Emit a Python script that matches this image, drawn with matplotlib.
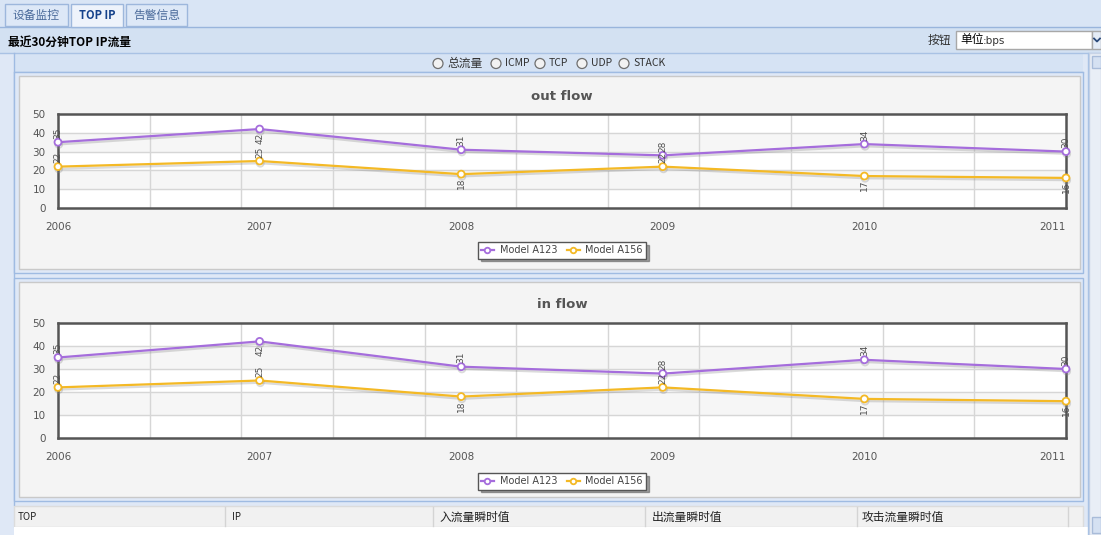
import matplotlib.pyplot as plt
import matplotlib.patheffects as pe
from matplotlib.patches import Rectangle, Circle

plt.rcParams['font.family'] = ['DejaVu Sans', 'Noto Sans CJK SC']
CJK = ['Noto Sans CJK SC', 'DejaVu Sans']

# data
years = [2006, 2007, 2008, 2009, 2010, 2011]
out_a123 = [35, 42, 31, 28, 34, 30]
out_a156 = [22, 25, 18, 22, 17, 16]
in_a123 = [35, 42, 31, 28, 34, 30]
in_a156 = [22, 25, 18, 22, 17, 16]
series_names = ['Model A123', 'Model A156']
tabs = ['设备监控', 'TOP IP', '告警信息']
radios = ['总流量', 'ICMP', 'TCP', 'UDP', 'STACK']
table_cols = ['TOP', 'IP', '入流量瞬时值', '出流量瞬时值', '攻击流量瞬时值']

# where the value labels sit (u = above the point, d = below)
place_a123 = ['u', 'd', 'u', 'u', 'u', 'u']
place_a156 = ['u', 'u', 'd', 'u', 'd', 'd']

PURPLE = '#a56ddc'
ORANGE = '#f4b925'

W, H = 1101, 535
fig = plt.figure(figsize=(W / 100, H / 100), dpi=100)
bg = fig.add_axes([0, 0, 1, 1])
bg.set_xlim(0, W)
bg.set_ylim(H, 0)
bg.axis('off')


def box(x0, y0, x1, y1, fc, ec='none', lw=1, z=1):
    bg.add_patch(Rectangle((x0, y0), x1 - x0, y1 - y0, facecolor=fc,
                           edgecolor=ec, linewidth=lw, zorder=z))


def px_rect(x0, y0, x1, y1):
    return [x0 / W, 1 - y1 / H, (x1 - x0) / W, (y1 - y0) / H]


# page background
box(0, 0, W, H, '#dfe8f6')
# tab bar
box(0, 0, W, 27, '#d9e5f5')
bg.plot([0, W], [27, 27], color='#99b5dc', lw=1, zorder=2)
tab_x = [(5, 68), (71, 123), (126, 187)]
for (x0, x1), name in zip(tab_x, tabs):
    sel = name == 'TOP IP'
    box(x0, 4, x1, 27 if sel else 26, '#eef3fb' if sel else '#dde8f7',
        ec='#9db7dc', z=3)
    bg.text((x0 + x1) / 2, 15.5, name, ha='center', va='center',
            fontsize=8.5 if not sel else 8, color='#15428b' if sel else '#4a6a9a',
            fontweight='bold' if sel else 'normal', family=CJK, zorder=4)

# header row
box(0, 28, W, 53, '#d3e1f2')
bg.plot([0, W], [53, 53], color='#a9c2e4', lw=1, zorder=2)
bg.text(8, 42, '最近30分钟TOP IP流量', ha='left', va='center', fontsize=8.5,
        fontweight='bold', color='#000000', family=CJK, zorder=4)
bg.text(928, 40.5, '按钮', ha='left', va='center', fontsize=8.5,
        color='#333333', family=CJK, zorder=4)
box(956, 31, 1092, 48.5, '#ffffff', ec='#a8a8a8', z=3)
bg.text(960, 40, '单位', ha='left', va='center', fontsize=8.5,
        color='#000000', family=CJK, zorder=4)
bg.text(983, 40.5, ':bps', ha='left', va='center', fontsize=7.5,
        color='#333333', zorder=4)
box(1092, 31, W, 48.5, '#e4ecf7', ec='#a8a8a8', z=3)
bg.plot([1094, 1097, 1100], [38.5, 41.5, 38.5], color='#2b4a7a', lw=1.3, zorder=4)

# left strip and scrollbar
box(0, 53, 14, H, '#dfe8f6')
bg.plot([14, 14], [53, 505], color='#9fbbe2', lw=1, zorder=2)
box(1089, 53, W, H, '#e9eef6', ec='#c7d3e6', z=2)
box(1092, 56, W, 68, '#d5e1f2', ec='#a9bcd9', z=3)
box(1092, 517, W, 533, '#d5e1f2', ec='#a9bcd9', z=3)
bg.plot([1088, 1088], [53, H], color='#a9c2e4', lw=1, zorder=3)

# radio row
box(14, 54, 1083, 72, '#d6e3f4')
bg.plot([14, 1083], [72, 72], color='#a9c2e4', lw=1, zorder=2)
radio_x = [438, 496, 540, 582, 624]
for rx, name in zip(radio_x, radios):
    bg.add_patch(Circle((rx, 63.5), 5, facecolor='#f2f2f2', edgecolor='#6f6f6f',
                        lw=0.9, zorder=4))
    bg.text(rx + 9, 63.5, name, ha='left', va='center',
            fontsize=8.5 if name == '总流量' else 7.5, color='#333333',
            family=CJK, zorder=4)

# chart panels
for y0, y1 in [(72, 273), (278, 501)]:
    box(14, y0, 1083, y1, '#dfe8f6', ec='#9fbbe2', z=2)
    box(19, y0 + 4, 1080, y1 - 4, '#f4f4f4', ec='#c9c9c9', z=2)

# table header
box(14, 506, 1083, 527, '#f1f1f1', ec='#dcdcdc', z=2)
box(14, 527, 1088, H, '#ffffff', z=2)
col_x = [18, 232, 440, 652, 862]
for sep in [225, 433, 645, 857, 1068]:
    bg.plot([sep, sep], [507, 526], color='#d4d4d4', lw=1, zorder=3)
for cx, name in zip(col_x, table_cols):
    bg.text(cx, 517, name, ha='left', va='center', fontsize=8.5 if cx > 400 else 7,
            color='#222222', family=CJK, zorder=4)


def draw_chart(rect, title, a123, a156, title_pad, legend_y):
    ax = fig.add_axes(px_rect(*rect))
    ax.set_xlim(years[0], years[-1])
    ax.set_ylim(0, 50)
    ax.set_facecolor('#ffffff')
    ax.axhspan(10, 20, color='#f6f6f6', zorder=0)
    ax.axhspan(30, 40, color='#f6f6f6', zorder=0)
    for k in range(1, 11):
        ax.axvline(years[0] + (years[-1] - years[0]) * k / 11, color='#d6d6d6',
                   lw=1, zorder=1)
    for v in [10, 20, 30, 40]:
        ax.axhline(v, color='#d6d6d6', lw=1, zorder=1)

    shadow = [pe.SimpleLineShadow(offset=(0.5, -1.6), shadow_color='#888888',
                                  alpha=0.3), pe.Normal()]
    for vals, col, name, place in [(a123, PURPLE, series_names[0], place_a123),
                                   (a156, ORANGE, series_names[1], place_a156)]:
        ax.plot(years, vals, color=col, lw=1.6, marker='o', markersize=5,
                markerfacecolor='white', markeredgecolor=col, markeredgewidth=1.3,
                label=name, path_effects=shadow, zorder=5, clip_on=False)
        for x, v, p in zip(years, vals, place):
            up = p == 'u'
            ax.annotate(str(v), (x, v), xytext=(0, 2.5 if up else -2.5),
                        textcoords='offset points', rotation=90, ha='center',
                        va='bottom' if up else 'top', fontsize=6.5, color='#505050',
                        zorder=6, annotation_clip=False)

    ax.set_xticks(years)
    ax.set_xticklabels([str(y) for y in years])
    ax.get_xticklabels()[-1].set_horizontalalignment('right')
    ax.set_yticks([0, 10, 20, 30, 40, 50])
    ax.tick_params(length=0, labelsize=7.5, labelcolor='#555555')
    ax.tick_params(axis='x', pad=10)
    ax.tick_params(axis='y', pad=9)
    for s in ax.spines.values():
        s.set_color('#555555')
        s.set_linewidth(1.8)
    ax.set_title(title, fontsize=9.5, color='#555555', fontweight='bold',
                 pad=title_pad)
    h = rect[3] - rect[1]
    leg = ax.legend(loc='upper center', bbox_to_anchor=(0.5, -(legend_y - rect[3]) / h),
                    ncol=2, fontsize=7, frameon=True, fancybox=False, shadow=True,
                    handlelength=1.3, handletextpad=0.6, columnspacing=1.0,
                    borderpad=0.35, edgecolor='#555555')
    for t in leg.get_texts():
        t.set_color('#444444')
    for line in leg.get_lines():
        line.set_path_effects([])
        line.set_markersize(4)
    return ax


draw_chart((58, 114, 1066, 208), 'out flow', out_a123, out_a156, 10, 237)
draw_chart((58, 323, 1066, 438), 'in flow', in_a123, in_a156, 11, 468)

plt.savefig('out.png', dpi=100)
